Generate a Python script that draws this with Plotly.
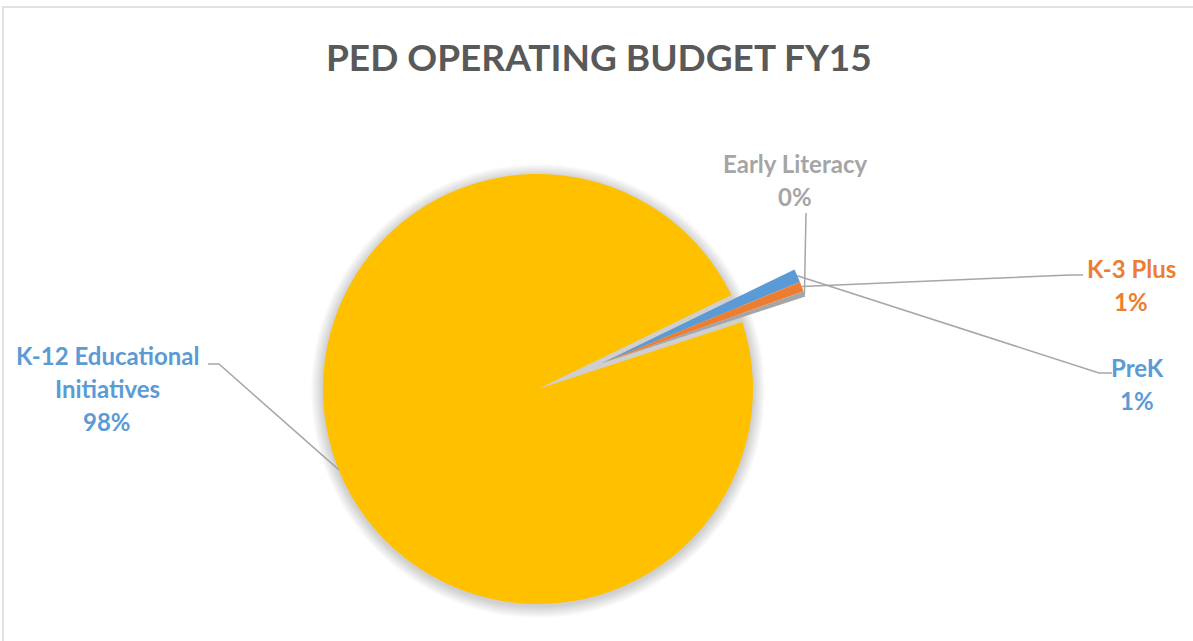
import math
import textwrap
import plotly.graph_objects as go

# ---- data ----
categories = ["PreK", "K-3 Plus", "Early Literacy", "K-12 Educational Initiatives"]
values = [1.0, 0.75, 0.4, 97.85]
exploded = [True, True, True, False]
slice_colors = ["#5B9BD5", "#ED7D31", "#A5A5A5", "#FFC000"]
label_colors = ["#5B9BD5", "#ED7D31", "#A5A5A5", "#5B9BD5"]
title_text = "PED OPERATING BUDGET FY15"

# ---- layout constants (pixels) ----
W, H = 1193, 641
CX, CY, R = 538, 389, 215
ROTATION = 64.1
EXPLODE_PX = 68
FONT = "Lato"
LABEL_SIZE = 24
LINE_GAP = 33
# label anchor: (center x, first line center y)
label_pos = {
    "PreK": (1137, 367),
    "K-3 Plus": (1131, 268),
    "Early Literacy": (795, 163),
    "K-12 Educational Initiatives": (107, 355),
}
# elbow path for leader lines (from label side)
leader_elbow = {
    "PreK": [(1112, 373), (1099, 373)],
    "K-3 Plus": [(1083, 275), (1070, 275)],
    "Early Literacy": [(806, 213)],
    "K-12 Educational Initiatives": [(208, 364), (219, 364)],
}


def px(x, y):
    return x / W, 1 - y / H


def domain_for(cx, cy, r):
    x0, y1 = px(cx - r, cy - r)
    x1, y0 = px(cx + r, cy + r)
    return dict(x=[x0, x1], y=[y0, y1])


total = sum(values)
spans = [v / total * 360 for v in values]
starts = []
a = ROTATION
for s in spans:
    starts.append(a)
    a += s
mids = [st + sp / 2 for st, sp in zip(starts, spans)]

# exploded group direction
ex_idx = [i for i, e in enumerate(exploded) if e]
g0 = starts[ex_idx[0]]
g1 = starts[ex_idx[-1]] + spans[ex_idx[-1]]
gmid = math.radians((g0 + g1) / 2)
DX = EXPLODE_PX * math.sin(gmid)
DY = -EXPLODE_PX * math.cos(gmid)

fig = go.Figure()

# shadow rings behind the main pie
shapes = []
for k in range(12, 0, -1):
    x0, y1 = px(CX - R - k, CY - R - k + 2)
    x1, y0 = px(CX + R + k, CY + R + k + 2)
    shapes.append(dict(type="circle", xref="paper", yref="paper", x0=x0, x1=x1, y0=y0, y1=y1,
                       fillcolor="rgba(0,0,0,0.014)", line=dict(width=0), layer="below"))

transparent = "rgba(0,0,0,0)"
fig.add_trace(go.Pie(
    labels=categories, values=values, sort=False, direction="clockwise", rotation=ROTATION,
    marker=dict(colors=[transparent if e else c for e, c in zip(exploded, slice_colors)],
                line=dict(width=0)),
    textinfo="none", domain=domain_for(CX, CY, R), showlegend=False,
))
fig.add_trace(go.Pie(
    labels=categories, values=values, sort=False, direction="clockwise", rotation=ROTATION,
    marker=dict(colors=[c if e else transparent for e, c in zip(exploded, slice_colors)],
                line=dict(width=0)),
    textinfo="none", domain=domain_for(CX + DX, CY + DY, R), showlegend=False,
))

annotations = []
for i, cat in enumerate(categories):
    pct = round(values[i] / total * 100)
    lines = textwrap.wrap(cat, 16) + [f"{pct}%"]
    lx, ly = label_pos[cat]
    for j, line in enumerate(lines):
        ax, ay = px(lx, ly + j * LINE_GAP)
        annotations.append(dict(x=ax, y=ay, xref="paper", yref="paper", text=line, showarrow=False,
                                xanchor="center", yanchor="middle",
                                font=dict(family=FONT, size=LABEL_SIZE, color=label_colors[i], weight="bold")))
    # leader line to slice mid-angle edge
    m = math.radians(mids[i])
    ox, oy = (DX, DY) if exploded[i] else (0, 0)
    sx = CX + ox + R * math.sin(m)
    sy = CY + oy - R * math.cos(m)
    pts = leader_elbow[cat] + [(sx, sy)]
    path = "M " + " L ".join(f"{px(x, y)[0]},{px(x, y)[1]}" for x, y in pts)
    shapes.append(dict(type="path", xref="paper", yref="paper", path=path,
                       line=dict(color="#A6A6A6", width=1.5)))

# chart frame
fx0, fy1 = px(3, 7)
fx1, fy0 = px(W + 20, H + 20)
shapes.append(dict(type="rect", xref="paper", yref="paper", x0=fx0, x1=fx1, y0=fy0, y1=fy1,
                   line=dict(color="#D9D9D9", width=1.5), fillcolor="rgba(0,0,0,0)", layer="below"))

fig.update_layout(
    width=W, height=H, margin=dict(l=0, r=0, t=0, b=0),
    paper_bgcolor="white", plot_bgcolor="white",
    title=dict(text=title_text, x=0.502, xanchor="center", y=1 - 58 / H, yanchor="middle",
               font=dict(family=FONT, size=37, color="#595959", weight="bold")),
    shapes=shapes, annotations=annotations,
)

fig.write_html("out.html")
